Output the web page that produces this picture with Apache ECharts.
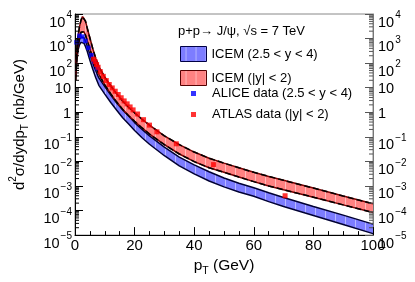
<!DOCTYPE html>
<html><head><meta charset="utf-8">
<script src="https://cdn.jsdelivr.net/npm/echarts@6/dist/echarts.min.js"></script>
<style>html,body{margin:0;padding:0;background:#fff}#c{width:415px;height:282px}</style>
</head><body><div id="c"></div>
<script>
// pT grid of the ICEM bands (GeV)
const ptGrid = [0.25,0.5,1,1.5,2,2.5,3,3.5,4,5,6,7,8,10,12,14,16,18,20,22.5,25,30,35,40,45,50,55,60,65,70,80,90,100];
// ICEM |y|<2 band (nb/GeV)
const redUpper = [60,250,1200,3000,5500,7800,8000,5200,3000,1050,380,150,72,27,12,5.6,2.9,1.6,0.95,0.52,0.3,0.11,0.048,0.024,0.0135,0.0085,0.0055,0.0036,0.00245,0.0017,0.00082,0.00039,0.00019];
const redLower = [20,90,450,1100,1800,2100,1900,1400,900,380,150,68,35,13,5.6,2.6,1.3,0.72,0.43,0.23,0.13,0.048,0.02,0.0098,0.0055,0.0036,0.0023,0.0015,0.001,0.0007,0.00035,0.00017,0.000083];
// ICEM 2.5<y<4 band (nb/GeV)
const blueUpper = [50,180,550,900,1150,1200,1100,800,550,230,100,48,25,11,5,2.4,1.25,0.7,0.38,0.2,0.11,0.038,0.015,0.0072,0.0038,0.0021,0.0013,0.00085,0.00053,0.00034,0.000145,0.000065,0.000028];
const blueLower = [30,110,330,550,700,730,650,480,330,130,55,25,12.5,5.5,2.5,1.2,0.6,0.33,0.18,0.092,0.05,0.017,0.0066,0.0031,0.0016,0.00092,0.00057,0.00038,0.00023,0.000145,0.000063,0.000027,0.0000115];
// ALICE data (2.5<y<4)
const aliceX = [0.5,1.5,2.5,3.5,4.5,5.5,6.5,7.5];
const aliceY = [700,1300,1200,800,420,210,115,62];
// ATLAS data (|y|<2)
const atlasX = [6.25,6.75,7.25,7.75,8.5,9.5,10.5,11.5,12.5,13.5,14.5,15.5,16.5,17.5,18.5,19.5,21,23,25,27.5,34,46.5,70.5];
const atlasY = [145,115,88,68,45,29,19.5,13.5,9.8,7.2,5.3,3.9,2.9,2.2,1.65,1.25,0.85,0.5,0.3,0.16,0.052,0.0074,0.0004];
// y tick values (decades) and minor tick multipliers
const yTickValues = [1e-5,1e-4,1e-3,1e-2,1e-1,1,10,100,1000,10000];
const yMinorMult = [2,3,4,5,6,7,8,9];
// labels
const legendNames = ['ICEM (2.5 < y < 4)','ICEM (|y| < 2)','ALICE data (2.5 < y < 4)','ATLAS data (|y| < 2)'];
const titleText = 'p+p\u2192 J/\u03c8, \u221as = 7 TeV';

const FONT = "'Liberation Sans', Arial, Helvetica, sans-serif";
const mctx = document.createElement('canvas').getContext('2d');
function textW(t, size){ mctx.font = size + 'px ' + FONT; return mctx.measureText(t).width; }

function makePattern(base){
  const c = document.createElement('canvas'); c.width = 10; c.height = 4;
  const g = c.getContext('2d'); g.fillStyle = base; g.fillRect(0,0,10,4);
  g.fillStyle = 'rgba(255,255,255,0.45)'; g.fillRect(5,0,1,4);
  return c;
}
const bluePat = {image: makePattern('#7d7dff'), repeat: 'repeat'};
const redPat = {image: makePattern('#ff8282'), repeat: 'repeat'};

function bandSeries(name, upper, lower, fill, z){
  return {
    type: 'custom', name: name, z: z, silent: true, clip: true,
    itemStyle: {color: fill},
    data: ptGrid.map((x,i) => [x, upper[i], lower[i]]),
    encode: {x: 0, y: [1,2]},
    renderItem: function(params, api){
      if (params.dataIndex !== 0) return null;
      const pts = [];
      for (let i = 0; i < ptGrid.length; i++) pts.push(api.coord([ptGrid[i], upper[i]]));
      for (let i = ptGrid.length - 1; i >= 0; i--) pts.push(api.coord([ptGrid[i], lower[i]]));
      return {type: 'polygon', shape: {points: pts}, style: {fill: fill}};
    }
  };
}
function edge(vals, style, z){
  return {type: 'line', data: ptGrid.map((x,i) => [x, vals[i]]), showSymbol: false, silent: true,
    z: z, lineStyle: style, yAxisIndex: 0};
}
function txt(text, x, y, size, align){
  return {type: 'text', style: {text: text, x: x, y: y, fontSize: size, fontFamily: FONT, fill: '#000',
    align: align, verticalAlign: 'middle'}};
}
// y-axis decade labels (10 with superscript exponent) and logarithmic minor ticks
const yDecor = {
  type: 'custom', silent: true, clip: false, z: 6,
  data: yTickValues.map(v => [0, v]),
  renderItem: function(params, api){
    const v = api.value(1);
    const e = Math.round(Math.log10(v));
    const pl = api.coord([0, v]);
    const pr = api.coord([100, v]);
    const ch = [];
    if (e === 0 || e === 1) {
      const t = e === 0 ? '1' : '10';
      ch.push(txt(t, pl[0] - 4, pl[1] + 1.5, 14.5, 'right'));
      ch.push(txt(t, pr[0] + 5, pr[1] + 1.5, 14.5, 'left'));
    } else {
      const ex = e < 0 ? '\u2212' + (-e) : String(e);
      const ew = textW(ex, 10);
      const bw = textW('10', 14.5);
      ch.push(txt(ex, pl[0] - 3, pl[1] + 1.5, 10, 'right'));
      ch.push(txt('10', pl[0] - 4 - ew, pl[1] + 8.5, 14.5, 'right'));
      ch.push(txt('10', pr[0] + 5, pr[1] + 8.5, 14.5, 'left'));
      ch.push(txt(ex, pr[0] + 6 + bw, pr[1] + 1.5, 10, 'left'));
    }
    if (e < 4) {
      for (let k = 0; k < yMinorMult.length; k++) {
        const yy = api.coord([0, v * yMinorMult[k]])[1];
        ch.push({type: 'line', shape: {x1: pl[0], y1: yy, x2: pl[0] + 4, y2: yy}, style: {stroke: '#000', lineWidth: 1}});
        ch.push({type: 'line', shape: {x1: pr[0], y1: yy, x2: pr[0] - 4, y2: yy}, style: {stroke: '#555', lineWidth: 1}});
      }
    }
    return {type: 'group', children: ch};
  }
};
const yBase = {
  type: 'log', logBase: 10, min: 1e-5, max: 1e4, interval: 1,
  splitLine: {show: false},
  minorTick: {show: false},
  axisTick: {inside: true, length: 8, lineStyle: {color: '#000'}},
  axisLabel: {show: false}
};

const chart = echarts.init(document.getElementById('c'), null, {renderer: 'canvas'});
chart.setOption({
  animation: false,
  backgroundColor: '#fff',
  grid: {left: 62, right: 42, top: 14, bottom: 43, show: true, borderColor: '#888', borderWidth: 1, backgroundColor: 'transparent'},
  title: {text: titleText, left: 173, top: 20, textStyle: {fontSize: 13, fontWeight: 'normal', fontFamily: FONT, color: '#000'}},
  legend: [
    {orient: 'vertical', left: 175, top: 41, itemWidth: 26, itemHeight: 15, itemGap: 8, selectedMode: false,
     textStyle: {fontSize: 13, fontFamily: FONT, color: '#000'},
     data: [
       {name: legendNames[0], icon: 'rect', itemStyle: {color: bluePat, borderColor: '#000044', borderWidth: 1}},
       {name: legendNames[1], icon: 'rect', itemStyle: {color: redPat, borderColor: '#550000', borderWidth: 1}}
     ]},
    {orient: 'vertical', left: 186, top: 82, itemWidth: 5, itemHeight: 5, itemGap: 8, selectedMode: false,
     textStyle: {fontSize: 13, fontFamily: FONT, color: '#000', padding: [0,0,0,11]},
     data: [
       {name: legendNames[2], icon: 'rect', itemStyle: {color: '#0000ff'}},
       {name: legendNames[3], icon: 'rect', itemStyle: {color: '#ff0000'}}
     ]}
  ],
  xAxis: {
    type: 'value', min: 0, max: 100, interval: 20,
    axisLine: {lineStyle: {color: '#000', width: 1}},
    axisTick: {inside: true, length: 8, lineStyle: {color: '#000'}},
    minorTick: {show: true, splitNumber: 4, length: 4, lineStyle: {color: '#000'}},
    splitLine: {show: false},
    axisLabel: {fontSize: 15, fontFamily: FONT, color: '#000', margin: 3},
    name: '{a|p}{t|T}{a| (GeV)}', nameLocation: 'middle', nameGap: 21,
    nameTextStyle: {rich: {
      a: {fontSize: 15.5, fontFamily: FONT, color: '#000', padding: [0,0,3,0], verticalAlign: 'bottom'},
      t: {fontSize: 10.5, fontFamily: FONT, color: '#000', verticalAlign: 'bottom'}
    }}
  },
  yAxis: [
    Object.assign({}, yBase, {
      position: 'left',
      axisLine: {show: true, lineStyle: {color: '#000', width: 1}},
      name: '{a|d}{s|2}{a|\u03c3/dydp}{t|T}{a| (nb/GeV)}', nameLocation: 'middle', nameGap: 45,
      nameTextStyle: {rich: {
        a: {fontSize: 15, fontFamily: FONT, color: '#000', padding: [0,0,3,0], verticalAlign: 'bottom'},
        s: {fontSize: 10, fontFamily: FONT, color: '#000', padding: [0,0,12,0], verticalAlign: 'bottom'},
        t: {fontSize: 10, fontFamily: FONT, color: '#000', verticalAlign: 'bottom'}
      }}
    }),
    Object.assign({}, yBase, {
      position: 'right',
      axisLine: {show: true, lineStyle: {color: '#777', width: 1}},
      axisTick: {inside: true, length: 8, lineStyle: {color: '#555'}}
    })
  ],
  series: [
    bandSeries(legendNames[0], blueUpper, blueLower, bluePat, 1),
    bandSeries(legendNames[1], redUpper, redLower, redPat, 1),
    edge(blueUpper, {color: '#000033', width: 1.5}, 2),
    edge(blueLower, {color: '#000033', width: 1.5}, 2),
    edge(redUpper, {color: '#7a0000', width: 1.5}, 2),
    edge(redLower, {color: '#7a0000', width: 1.5}, 2),
    edge(redUpper, {color: '#000', width: 1.5, type: [6,3]}, 3),
    edge(redLower, {color: '#000', width: 1.5, type: [6,3]}, 3),
    {type: 'scatter', name: legendNames[2], symbol: 'rect', symbolSize: 4.5, z: 5, silent: true,
     itemStyle: {color: '#0000ff'}, data: aliceX.map((x,i) => [x, aliceY[i]])},
    {type: 'scatter', name: legendNames[3], symbol: 'rect', symbolSize: 5, z: 5, silent: true,
     itemStyle: {color: '#ff0000'}, data: atlasX.map((x,i) => [x, atlasY[i]])},
    yDecor
  ]
});
</script></body></html>
